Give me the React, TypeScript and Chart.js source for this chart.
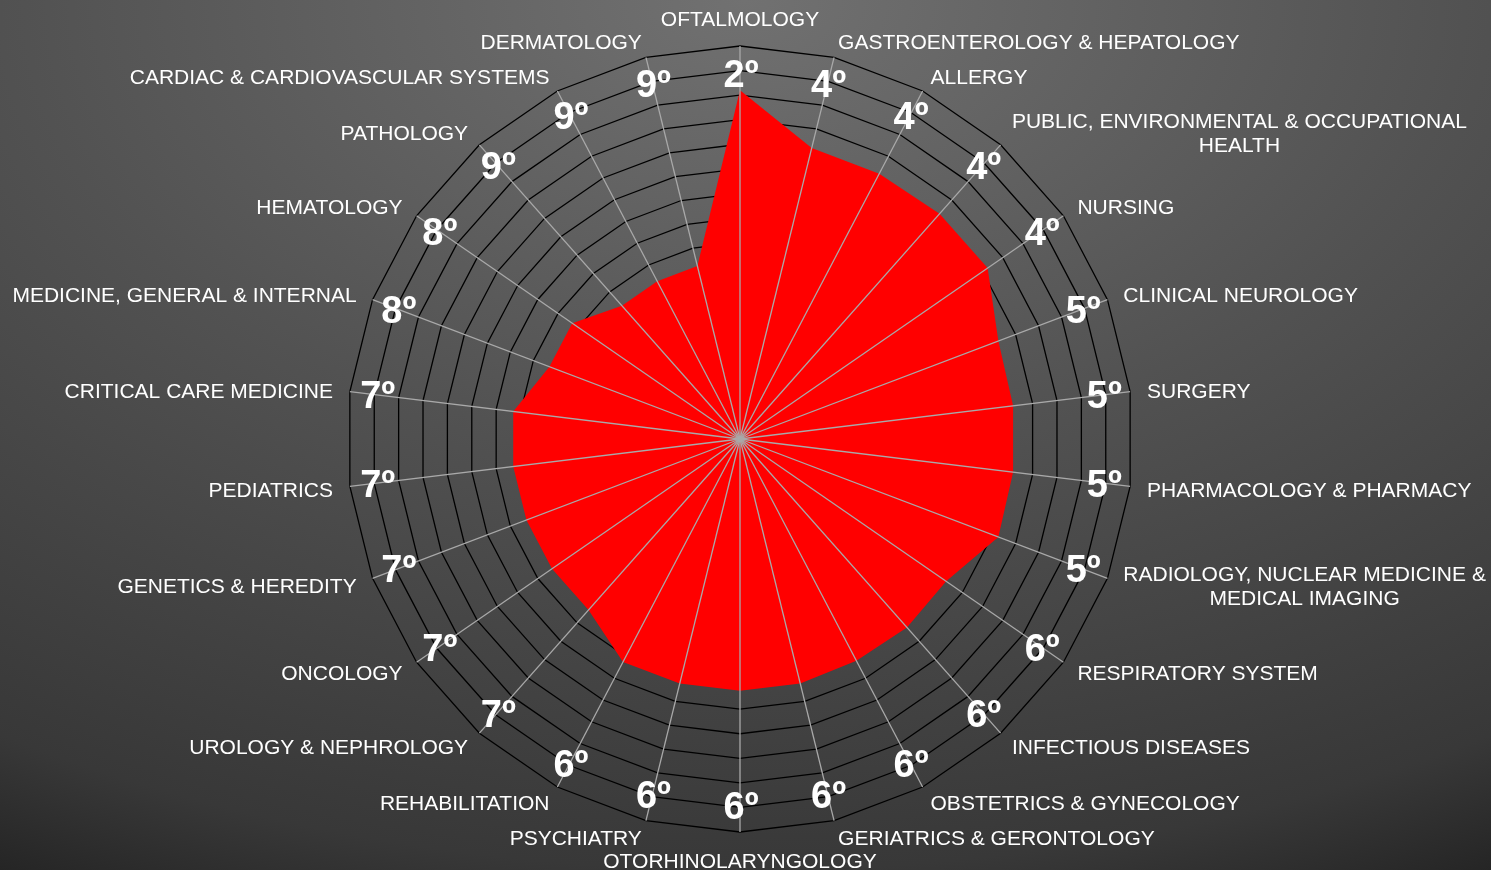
import { useEffect, useRef } from 'react';
import { Chart, registerables } from 'chart.js';

Chart.register(...registerables);

const CATEGORIES: string[] = [
  'OFTALMOLOGY',
  'GASTROENTEROLOGY & HEPATOLOGY',
  'ALLERGY',
  'PUBLIC, ENVIRONMENTAL & OCCUPATIONAL\nHEALTH',
  'NURSING',
  'CLINICAL NEUROLOGY',
  'SURGERY',
  'PHARMACOLOGY & PHARMACY',
  'RADIOLOGY, NUCLEAR MEDICINE &\nMEDICAL IMAGING',
  'RESPIRATORY SYSTEM',
  'INFECTIOUS DISEASES',
  'OBSTETRICS & GYNECOLOGY',
  'GERIATRICS & GERONTOLOGY',
  'OTORHINOLARYNGOLOGY',
  'PSYCHIATRY',
  'REHABILITATION',
  'UROLOGY & NEPHROLOGY',
  'ONCOLOGY',
  'GENETICS & HEREDITY',
  'PEDIATRICS',
  'CRITICAL CARE MEDICINE',
  'MEDICINE, GENERAL & INTERNAL',
  'HEMATOLOGY',
  'PATHOLOGY',
  'CARDIAC & CARDIOVASCULAR SYSTEMS',
  'DERMATOLOGY',
];

const VALUES: number[] = [
  14.2, 12.2, 12.2, 12.25, 12.25, 11.25, 11.2, 11.2, 11.25, 10.2, 10.25, 10.2, 10.25,
  10.25, 10.25, 10.25, 9.3, 9.3, 9.3, 9.3, 9.3, 8.3, 8.3, 7.25, 7.25, 7.25,
];

const RANKS: string[] = [
  '2º', '4º', '4º', '4º', '4º', '5º', '5º', '5º', '5º', '6º', '6º', '6º', '6º',
  '6º', '6º', '6º', '7º', '7º', '7º', '7º', '7º', '8º', '8º', '9º', '9º', '9º',
];

const SCALE_MIN = 0;
const SCALE_MAX = 16;
const SCALE_STEP = 1;
const RANK_LABEL_VALUE = 14.9;

const LABEL_FONT = '21px "Liberation Sans", Arial, sans-serif';
const RANK_FONT = 'bold 38px "Liberation Sans", Arial, sans-serif';

export default function App() {
  const ref = useRef<HTMLCanvasElement>(null);

  useEffect(() => {
    const overlay = {
      id: 'overlay',
      afterDatasetsDraw(chart: any) {
        const scale = chart.scales.r;
        const ctx: CanvasRenderingContext2D = chart.ctx;
        const n = CATEGORIES.length;
        const outer = scale.getDistanceFromCenterForValue(SCALE_MAX);
        ctx.save();
        // spokes on top of the filled area
        ctx.strokeStyle = '#a9a9a9';
        ctx.lineWidth = 1.3;
        for (let i = 0; i < n; i++) {
          const p = scale.getPointPosition(i, outer);
          ctx.beginPath();
          ctx.moveTo(scale.xCenter, scale.yCenter);
          ctx.lineTo(p.x, p.y);
          ctx.stroke();
        }
        // rank labels
        ctx.fillStyle = '#ffffff';
        ctx.font = RANK_FONT;
        ctx.textAlign = 'center';
        ctx.textBaseline = 'alphabetic';
        const rr = scale.getDistanceFromCenterForValue(RANK_LABEL_VALUE);
        for (let i = 0; i < n; i++) {
          const p = scale.getPointPosition(i, rr);
          ctx.fillText(RANKS[i], p.x + 1, p.y + 38 * 0.358);
        }
        // category labels
        ctx.font = LABEL_FONT;
        ctx.textBaseline = 'middle';
        const lineH = 24;
        for (let i = 0; i < n; i++) {
          const lines = CATEGORIES[i].split('\n');
          const p = scale.getPointPosition(i, outer + 17);
          const w = Math.max(...lines.map((l) => ctx.measureText(l).width));
          let cx = p.x;
          let cy = p.y;
          if (i === 0) {
            cy = p.y - 11;
          } else if (2 * i === n) {
            cy = p.y + 11;
          } else if (2 * i < n) {
            cx = p.x + w / 2;
          } else {
            cx = p.x - w / 2;
          }
          ctx.textAlign = 'center';
          lines.forEach((l, k) => {
            ctx.fillText(l, cx, cy + (k - (lines.length - 1) / 2) * lineH + 2.5);
          });
        }
        ctx.restore();
      },
    };

    const chart = new Chart(ref.current as HTMLCanvasElement, {
      type: 'radar',
      data: {
        labels: CATEGORIES,
        datasets: [
          {
            data: VALUES,
            backgroundColor: '#ff0000',
            borderColor: '#ff0000',
            borderWidth: 0,
            pointRadius: 0,
            pointHoverRadius: 0,
            fill: 'origin',
            tension: 0,
          },
        ],
      },
      options: {
        animation: false,
        responsive: true,
        maintainAspectRatio: false,
        layout: { padding: { left: 347, right: 358, top: 46, bottom: 38 } },
        plugins: {
          legend: { display: false },
          tooltip: { enabled: false },
        },
        scales: {
          r: {
            min: SCALE_MIN,
            max: SCALE_MAX,
            beginAtZero: true,
            ticks: { display: false, stepSize: SCALE_STEP },
            grid: { color: '#000000', lineWidth: 1.3 },
            angleLines: { display: false },
            pointLabels: { display: false },
          },
        },
      },
      plugins: [overlay],
    } as any);
    return () => chart.destroy();
  }, []);

  return (
    <div
      style={{
        position: 'fixed',
        left: 0,
        top: 0,
        width: 1491,
        height: 870,
        background:
          'radial-gradient(1600px 1000px at 745px 0px, #717171 0%, #525252 45%, #383838 87%, #232323 100%)',
      }}
    >
      <canvas ref={ref} />
    </div>
  );
}
